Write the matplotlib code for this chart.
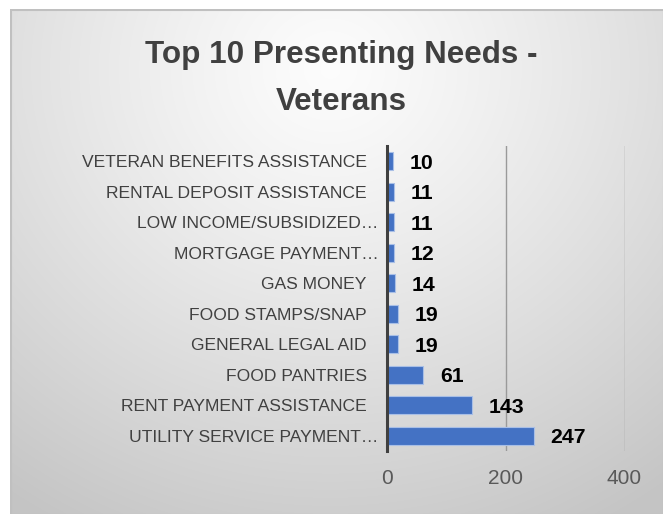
import numpy as np
import matplotlib
matplotlib.use("Agg")
import matplotlib.pyplot as plt
import matplotlib.transforms as mtransforms
from matplotlib.patches import Rectangle

plt.rcParams['font.family'] = ['Liberation Sans', 'DejaVu Sans']

# data, top to bottom as shown
categories = ["VETERAN BENEFITS ASSISTANCE", "RENTAL DEPOSIT ASSISTANCE",
              "LOW INCOME/SUBSIDIZED\u2026", "MORTGAGE PAYMENT\u2026",
              "GAS MONEY", "FOOD STAMPS/SNAP", "GENERAL LEGAL AID",
              "FOOD PANTRIES", "RENT PAYMENT ASSISTANCE",
              "UTILITY SERVICE PAYMENT\u2026"]
counts = [10, 11, 11, 12, 14, 19, 19, 61, 143, 247]
x_ticks = [0, 200, 400]
title_lines = ["Top 10 Presenting Needs -", "Veterans"]

W, H = 663, 514
fig = plt.figure(figsize=(W / 100, H / 100), dpi=100)
fig.patch.set_facecolor("white")

# background panel, light at the top centre, darker to the sides and bottom
bx0, by_top = 10, 9
bg = fig.add_axes([bx0 / W, 0, (W - bx0) / W, (H - by_top) / H], zorder=-5)
gh, gw = H - by_top, W - bx0
yy, xx = np.mgrid[0:gh, 0:gw]
d = np.sqrt(((xx - 320) / 560.0) ** 2 + ((yy - 60) / 520.0) ** 2)
shade = 0.99 - 0.22 * np.clip(d, 0, 1) ** 1.2
bg.imshow(np.dstack([shade] * 3), aspect="auto", extent=[0, gw, gh, 0])
bg.set_axis_off()
bg.add_patch(Rectangle((0.5, 0.5), gw, gh, fill=False, edgecolor="#c0c0c0", lw=1.5))

# title
fig.text(341 / W, 1 - 63.5 / H, title_lines[0], ha="center", va="baseline",
         fontsize=22.6, fontweight="bold", color="#404040")
fig.text(341 / W, 1 - 109.5 / H, title_lines[1], ha="center", va="baseline",
         fontsize=22.6, fontweight="bold", color="#404040")

# plot area
ax = fig.add_axes([387 / W, 1 - 451 / H, (624.5 - 387) / W, (451 - 146) / H])
ax.set_facecolor("none")
ypos = np.arange(len(categories))
ax.barh(ypos, counts, height=0.58, color="#4472C4", edgecolor="#a9bfe6",
        linewidth=0.8, zorder=3)
ax.set_xlim(0, 400)
ax.set_ylim(len(categories) - 0.5, -0.5)

ax.set_yticks(ypos)
ax.set_yticklabels(categories, fontsize=12.6, color="#404040")
ax.set_xticks(x_ticks)
ax.set_xticklabels([str(t) for t in x_ticks], fontsize=15, color="#595959")
ax.tick_params(axis="y", length=0, pad=14.5)
ax.tick_params(axis="x", length=0, pad=13)

# truncated labels sit closer to the axis, like excel does
shift = mtransforms.ScaledTranslation(12 / 100, 0, fig.dpi_scale_trans)
for lbl in ax.get_yticklabels():
    if lbl.get_text().endswith("\u2026"):
        lbl.set_transform(lbl.get_transform() + shift)

for s in ["top", "right", "bottom"]:
    ax.spines[s].set_visible(False)
ax.spines["left"].set_color("#404040")
ax.spines["left"].set_linewidth(2.2)
ax.spines["left"].set_zorder(4)

ax.xaxis.grid(True, color="#9a9a9a", linewidth=1)
ax.set_axisbelow(True)

for yi, v in zip(ypos, counts):
    ax.annotate(str(v), (v, yi), xytext=(12, -1.5), textcoords="offset points",
                ha="left", va="center", fontsize=15.3, fontweight="bold",
                color="black")

fig.savefig("out.png", dpi=100)
